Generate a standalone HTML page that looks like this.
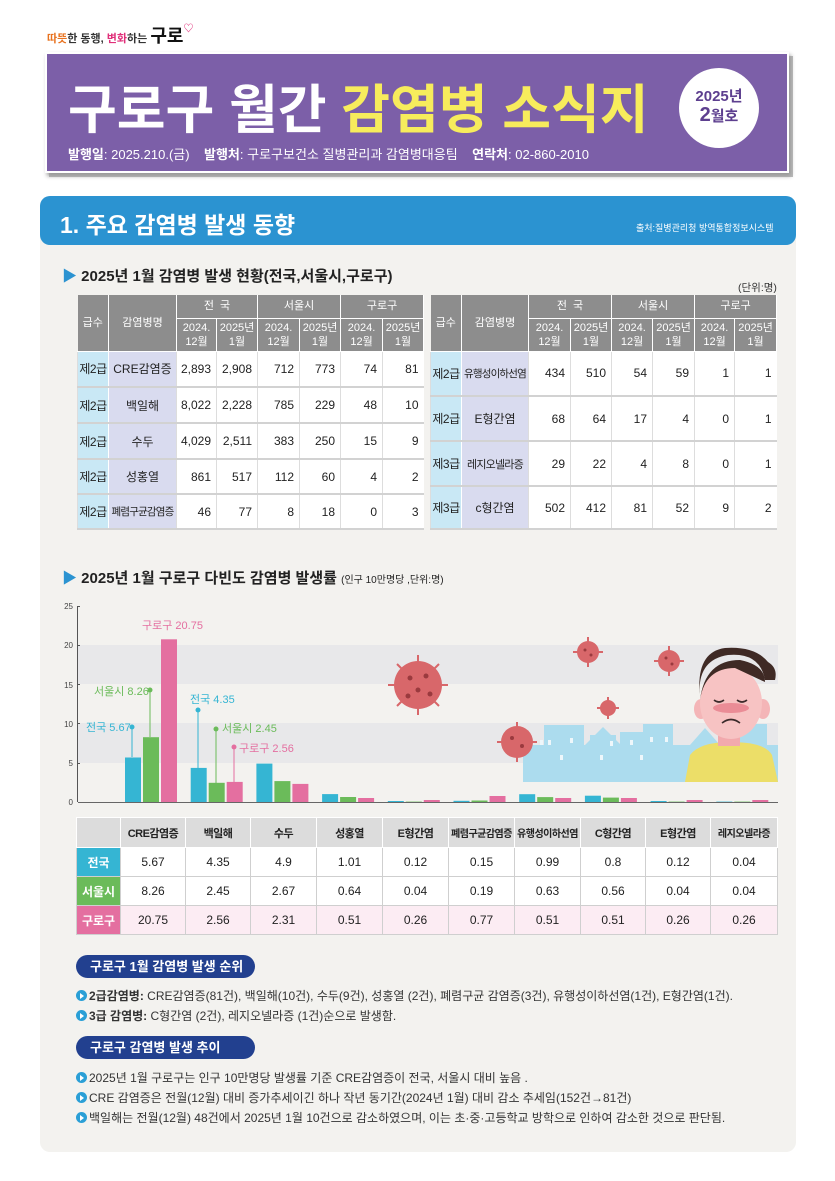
<!DOCTYPE html>
<html><head><meta charset="utf-8">
<style>
*{margin:0;padding:0;box-sizing:border-box}
body{width:835px;height:1181px;background:#fff;position:relative;font-family:"Liberation Sans","Noto Sans CJK KR",sans-serif;overflow:hidden;color:#333}
.a{position:absolute}
table{border-collapse:collapse;table-layout:fixed;position:absolute;font-size:12px}
td{text-align:center;vertical-align:middle;padding:0;white-space:nowrap;overflow:hidden}
.t1 thead td{background:#8d8d8d;color:#fff;border-right:1px solid #fff;border-bottom:1px solid #fff;font-size:11px;line-height:14px}
.t1 tbody td{border-bottom:2px solid #d2d2d2;background:#fff;text-align:right;padding-right:5px;font-size:12px;color:#222}
.t1 tbody td.g{background:#c9e8f5;text-align:center;padding:0;border-right:1px solid #fff;letter-spacing:-0.5px}
.t1 tbody td.n{background:#d9dbef;text-align:center;padding:0}
.t1 tbody td{border-left:1px solid #ddd}
.sm{font-size:10.5px!important;letter-spacing:-0.8px}
.t2 td{border:1px solid #cfcfcf;height:29px;font-size:12px;color:#222}
.t2 tr.h td{background:#dcdcdc;font-weight:bold;font-size:11px;border-color:#fff;letter-spacing:-0.5px}
.pill{background:#22408f;color:#fff;font-weight:bold;font-size:13px;border-radius:12px;padding-left:14px;line-height:23px;height:23px;width:179px}
.ln{font-size:12px;color:#333;left:76px;letter-spacing:0px;white-space:nowrap}
.ar{display:inline-block;width:11px;height:11px;border-radius:50%;background:#2a9fd6;position:relative;top:1px;margin-right:2px}
.ar:after{content:"";position:absolute;left:4px;top:2.5px;border-left:4px solid #fff;border-top:3px solid transparent;border-bottom:3px solid transparent}
</style></head><body>

<div class="a" style="left:47px;top:22px;font-size:11px;font-weight:bold;color:#333"><span style="color:#e8721f">따뜻</span>한 동행, <span style="color:#e0307a">변화</span>하는 <span style="font-size:18px;color:#111">구로</span><span style="color:#e0307a;font-size:10px;position:relative;top:-10px">♡</span></div>

<div class="a" style="left:49px;top:56px;width:744px;height:121px;background:#bbb;"></div>
<div class="a" style="left:45px;top:52px;width:744px;height:121px;background:#7c5fa8;border:2px solid #fff;box-shadow:2px 3px 4px #999"></div>
<div class="a" style="left:68px;top:68px;font-size:53px;font-weight:bold;color:#fff;white-space:nowrap">구로구 월간 <span style="color:#f7ec5c">감염병 소식지</span></div>
<div class="a" style="left:68px;top:144px;font-size:13px;color:#fff;white-space:nowrap"><b>발행일</b>: 2025.210.(금) &nbsp;&nbsp; <b>발행처</b>: 구로구보건소 질병관리과 감염병대응팀 &nbsp;&nbsp; <b>연락처</b>: 02-860-2010</div>
<div class="a" style="left:679px;top:68px;width:80px;height:80px;border-radius:50%;background:#fff;text-align:center;color:#5d3f8f;font-weight:bold;font-size:15px;line-height:19px;padding-top:19px">2025년<br><span style="font-size:20px">2</span>월호</div>

<div class="a" style="left:40px;top:196px;width:756px;height:956px;background:#f3f2ef;border-radius:10px"></div>
<div class="a" style="left:40px;top:196px;width:756px;height:49px;background:#2b93d1;border-radius:10px"></div>
<div class="a" style="left:60px;top:206px;font-size:23px;font-weight:bold;color:#fff">1. 주요 감염병 발생 동향</div>
<div class="a" style="left:636px;top:221px;font-size:9px;color:#fff">출처:질병관리청 방역통합정보시스템</div>

<div class="a" style="left:62px;top:265px;font-size:15px;font-weight:bold;color:#222"><span style="color:#2b93d1">▶</span> 2025년 1월 감염병 발생 현황(전국,서울시,구로구)</div>
<div class="a" style="left:738px;top:280px;font-size:10.5px;color:#333">(단위:명)</div>

<table class="t1" style="left:77px;top:295px;width:346px">
<colgroup><col style="width:31px"><col style="width:68px"><col style="width:40px"><col style="width:41px"><col style="width:42px"><col style="width:41px"><col style="width:42px"><col style="width:41px"></colgroup>
<thead><tr style="height:23px"><td rowspan="2">급수</td><td rowspan="2">감염병명</td><td colspan="2">전 &nbsp;국</td><td colspan="2">서울시</td><td colspan="2">구로구</td></tr>
<tr style="height:33px"><td>2024.<br>12월</td><td>2025년<br>1월</td><td>2024.<br>12월</td><td>2025년<br>1월</td><td>2024.<br>12월</td><td>2025년<br>1월</td></tr></thead>
<tbody>
<tr style="height:36px"><td class="g">제2급</td><td class="n">CRE감염증</td><td>2,893</td><td>2,908</td><td>712</td><td>773</td><td>74</td><td>81</td></tr>
<tr style="height:36px"><td class="g">제2급</td><td class="n">백일해</td><td>8,022</td><td>2,228</td><td>785</td><td>229</td><td>48</td><td>10</td></tr>
<tr style="height:36px"><td class="g">제2급</td><td class="n">수두</td><td>4,029</td><td>2,511</td><td>383</td><td>250</td><td>15</td><td>9</td></tr>
<tr style="height:35px"><td class="g">제2급</td><td class="n">성홍열</td><td>861</td><td>517</td><td>112</td><td>60</td><td>4</td><td>2</td></tr>
<tr style="height:35px"><td class="g">제2급</td><td class="n sm">폐렴구균감염증</td><td>46</td><td>77</td><td>8</td><td>18</td><td>0</td><td>3</td></tr>
</tbody></table>

<table class="t1" style="left:430px;top:295px;width:346px">
<colgroup><col style="width:31px"><col style="width:67px"><col style="width:42px"><col style="width:41px"><col style="width:41px"><col style="width:42px"><col style="width:40px"><col style="width:42px"></colgroup>
<thead><tr style="height:23px"><td rowspan="2">급수</td><td rowspan="2">감염병명</td><td colspan="2">전 &nbsp;국</td><td colspan="2">서울시</td><td colspan="2">구로구</td></tr>
<tr style="height:33px"><td>2024.<br>12월</td><td>2025년<br>1월</td><td>2024.<br>12월</td><td>2025년<br>1월</td><td>2024.<br>12월</td><td>2025년<br>1월</td></tr></thead>
<tbody>
<tr style="height:45px"><td class="g">제2급</td><td class="n sm">유행성이하선염</td><td>434</td><td>510</td><td>54</td><td>59</td><td>1</td><td>1</td></tr>
<tr style="height:45px"><td class="g">제2급</td><td class="n">E형간염</td><td>68</td><td>64</td><td>17</td><td>4</td><td>0</td><td>1</td></tr>
<tr style="height:45px"><td class="g">제3급</td><td class="n sm" style="font-size:11px!important">레지오넬라증</td><td>29</td><td>22</td><td>4</td><td>8</td><td>0</td><td>1</td></tr>
<tr style="height:43px"><td class="g">제3급</td><td class="n">c형간염</td><td>502</td><td>412</td><td>81</td><td>52</td><td>9</td><td>2</td></tr>
</tbody></table>

<div class="a" style="left:62px;top:567px;font-size:15px;font-weight:bold;color:#222"><span style="color:#2b93d1">▶</span> 2025년 1월 구로구 다빈도 감염병 발생률 <span style="font-size:10px;font-weight:normal">(인구 10만명당 ,단위:명)</span></div>

<svg class="a" style="left:0;top:0" width="835" height="1181" font-family="Liberation Sans, Noto Sans CJK KR, sans-serif">
<rect x="78" y="645" width="700" height="39" fill="#e8e8ea"/>
<rect x="78" y="723" width="700" height="40" fill="#e8e8ea"/>
<g font-size="8" fill="#444" text-anchor="end">
<text x="73" y="609">25</text><text x="73" y="648">20</text><text x="73" y="688">15</text><text x="73" y="727">10</text><text x="73" y="766">5</text><text x="73" y="805">0</text></g>
<line x1="77.5" y1="606" x2="77.5" y2="802" stroke="#555"/>
<g stroke="#555"><line x1="77" y1="606.5" x2="80" y2="606.5"/><line x1="77" y1="645.5" x2="80" y2="645.5"/><line x1="77" y1="684.5" x2="80" y2="684.5"/><line x1="77" y1="723.5" x2="80" y2="723.5"/><line x1="77" y1="763.5" x2="80" y2="763.5"/></g>
<g fill="#acdcee">
<rect x="523" y="745" width="255" height="37"/>
<rect x="544" y="725" width="40" height="22"/><polygon points="585,745 603,727 621,745"/><rect x="590" y="735" width="26" height="12"/>
<rect x="620" y="732" width="35" height="15"/><rect x="643" y="724" width="30" height="22"/>
<polygon points="690,745 705,728 720,745"/><rect x="737" y="724" width="30" height="25"/>
</g>
<g fill="#eef7fb"><rect x="540" y="740" width="3" height="5"/><rect x="548" y="740" width="3" height="5"/><rect x="570" y="738" width="3" height="5"/><rect x="610" y="741" width="3" height="5"/><rect x="630" y="740" width="3" height="5"/><rect x="650" y="737" width="3" height="5"/><rect x="665" y="737" width="3" height="5"/><rect x="560" y="755" width="3" height="5"/><rect x="600" y="755" width="3" height="5"/><rect x="640" y="755" width="3" height="5"/></g>
<g fill="#d8676a">
<circle cx="418" cy="685" r="24"/><circle cx="517" cy="742" r="16"/><circle cx="588" cy="652" r="11"/><circle cx="669" cy="661" r="11"/><circle cx="608" cy="708" r="8"/>
</g>
<g stroke="#d8676a" stroke-width="2"><line x1="418" y1="655" x2="418" y2="715"/><line x1="388" y1="685" x2="448" y2="685"/><line x1="397" y1="664" x2="439" y2="706"/><line x1="439" y1="664" x2="397" y2="706"/><line x1="517" y1="722" x2="517" y2="762"/><line x1="497" y1="742" x2="537" y2="742"/><line x1="588" y1="637" x2="588" y2="667"/><line x1="573" y1="652" x2="603" y2="652"/><line x1="669" y1="646" x2="669" y2="676"/><line x1="654" y1="661" x2="684" y2="661"/><line x1="608" y1="697" x2="608" y2="719"/><line x1="597" y1="708" x2="619" y2="708"/></g>
<g fill="#9a3a3e"><circle cx="410" cy="678" r="2.5"/><circle cx="426" cy="676" r="2.5"/><circle cx="418" cy="690" r="2.5"/><circle cx="408" cy="696" r="2.5"/><circle cx="430" cy="694" r="2.5"/><circle cx="512" cy="738" r="2"/><circle cx="522" cy="746" r="2"/><circle cx="585" cy="650" r="1.5"/><circle cx="591" cy="655" r="1.5"/><circle cx="666" cy="658" r="1.5"/><circle cx="672" cy="664" r="1.5"/></g>
<path d="M685 782 L690 755 Q700 742 730 742 Q765 742 772 755 L778 782 Z" fill="#ecde68"/>
<rect x="718" y="726" width="22" height="20" fill="#f2a9ad"/>
<ellipse cx="701" cy="709" rx="7" ry="10" fill="#f4b5b7"/><ellipse cx="763" cy="709" rx="7" ry="10" fill="#f4b5b7"/>
<ellipse cx="731" cy="703" rx="31" ry="36" fill="#f7c3c3"/>
<path d="M700 698 Q696 660 728 655 Q760 652 765 680 L775 680 Q778 668 768 662 Q755 646 725 648 Q695 652 700 698 Z" fill="#3f2a25"/>
<path d="M700 700 Q705 668 735 668 L765 682 Q765 665 740 660 Q705 660 700 700Z" fill="#3f2a25"/>
<ellipse cx="731" cy="708" rx="18" ry="5" fill="#ea8c96"/>
<path d="M714 700 Q719 704 724 700 M737 700 Q742 704 747 700 M722 723 Q731 716 740 723" stroke="#3a2a2a" stroke-width="1.6" fill="none"/>
<g fill="#35b5d3">
<rect x="125" y="757.5" width="16" height="44.5"/><rect x="190.7" y="767.9" width="16" height="34.1"/><rect x="256.4" y="763.6" width="16" height="38.4"/><rect x="322.1" y="794.1" width="16" height="7.9"/><rect x="387.8" y="801" width="16" height="1"/><rect x="453.5" y="800.8" width="16" height="1.2"/><rect x="519.2" y="794.2" width="16" height="7.8"/><rect x="584.9" y="795.7" width="16" height="6.3"/><rect x="650.6" y="801" width="16" height="1"/><rect x="716.3" y="801.6" width="16" height="0.4"/></g>
<g fill="#6bbb5a">
<rect x="143" y="737.2" width="16" height="64.8"/><rect x="208.7" y="782.8" width="16" height="19.2"/><rect x="274.4" y="781.1" width="16" height="20.9"/><rect x="340.1" y="797" width="16" height="5"/><rect x="405.8" y="801.6" width="16" height="0.4"/><rect x="471.5" y="800.5" width="16" height="1.5"/><rect x="537.2" y="797.1" width="16" height="4.9"/><rect x="602.9" y="797.6" width="16" height="4.4"/><rect x="668.6" y="801.6" width="16" height="0.4"/><rect x="734.3" y="801.6" width="16" height="0.4"/></g>
<g fill="#e46fa0">
<rect x="161" y="639.3" width="16" height="162.7"/><rect x="226.7" y="781.9" width="16" height="20.1"/><rect x="292.4" y="783.9" width="16" height="18.1"/><rect x="358.1" y="798" width="16" height="4"/><rect x="423.8" y="800" width="16" height="2"/><rect x="489.5" y="796" width="16" height="6"/><rect x="555.2" y="798" width="16" height="4"/><rect x="620.9" y="798" width="16" height="4"/><rect x="686.6" y="800" width="16" height="2"/><rect x="752.3" y="800" width="16" height="2"/></g>
<line x1="78" y1="802.5" x2="778" y2="802.5" stroke="#666"/>
<g stroke-width="1"><line x1="132" y1="727" x2="132" y2="757" stroke="#35b5d3"/><line x1="150" y1="690" x2="150" y2="737" stroke="#6bbb5a"/><line x1="198" y1="710" x2="198" y2="768" stroke="#35b5d3"/><line x1="216" y1="729" x2="216" y2="783" stroke="#6bbb5a"/><line x1="234" y1="747" x2="234" y2="782" stroke="#e46fa0"/></g>
<circle cx="132" cy="727" r="2.5" fill="#35b5d3"/><circle cx="150" cy="690" r="2.5" fill="#6bbb5a"/><circle cx="198" cy="710" r="2.5" fill="#35b5d3"/><circle cx="216" cy="729" r="2.5" fill="#6bbb5a"/><circle cx="234" cy="747" r="2.5" fill="#e46fa0"/>
<g font-size="11">
<text x="142" y="629" fill="#e46fa0">구로구 20.75</text>
<text x="94" y="695" fill="#6bbb5a">서울시 8.26</text>
<text x="86" y="731" fill="#35b5d3">전국 5.67</text>
<text x="190" y="703" fill="#35b5d3">전국 4.35</text>
<text x="222" y="732" fill="#6bbb5a">서울시 2.45</text>
<text x="239" y="752" fill="#e46fa0">구로구 2.56</text>
</g>
</svg>

<table class="t2" style="left:76px;top:817px;width:701px">
<colgroup><col style="width:44px"><col style="width:65px"><col style="width:65px"><col style="width:66px"><col style="width:66px"><col style="width:66px"><col style="width:66px"><col style="width:66px"><col style="width:65px"><col style="width:65px"><col style="width:67px"></colgroup>
<tr class="h" style="height:30px"><td style="background:#dcdcdc"></td><td>CRE감염증</td><td>백일해</td><td>수두</td><td>성홍열</td><td>E형간염</td><td style="font-size:10px">폐렴구균감염증</td><td style="font-size:10px">유행성이하선염</td><td>C형간염</td><td>E형간염</td><td style="font-size:10px">레지오넬라증</td></tr>
<tr style="background:#fff"><td style="background:#35b5d3;color:#fff;font-weight:bold">전국</td><td>5.67</td><td>4.35</td><td>4.9</td><td>1.01</td><td>0.12</td><td>0.15</td><td>0.99</td><td>0.8</td><td>0.12</td><td>0.04</td></tr>
<tr style="background:#fff"><td style="background:#6bbb5a;color:#fff;font-weight:bold">서울시</td><td>8.26</td><td>2.45</td><td>2.67</td><td>0.64</td><td>0.04</td><td>0.19</td><td>0.63</td><td>0.56</td><td>0.04</td><td>0.04</td></tr>
<tr style="background:#fcecf3"><td style="background:#e46fa0;color:#fff;font-weight:bold">구로구</td><td>20.75</td><td>2.56</td><td>2.31</td><td>0.51</td><td>0.26</td><td>0.77</td><td>0.51</td><td>0.51</td><td>0.26</td><td>0.26</td></tr>
</table>

<div class="a pill" style="left:76px;top:955px">구로구 1월 감염병 발생 순위</div>
<div class="a ln" style="top:987px"><span class="ar"></span><b>2급감염병:</b> CRE감염증(81건), 백일해(10건), 수두(9건), 성홍열 (2건), 폐렴구균 감염증(3건), 유행성이하선염(1건), E형간염(1건).</div>
<div class="a ln" style="top:1007px"><span class="ar"></span><b>3급 감염병:</b> C형간염 (2건), 레지오넬라증 (1건)순으로 발생함.</div>
<div class="a pill" style="left:76px;top:1036px">구로구 감염병 발생 추이</div>
<div class="a ln" style="top:1069px"><span class="ar"></span>2025년 1월 구로구는 인구 10만명당 발생률 기준 CRE감염증이 전국, 서울시 대비 높음 .</div>
<div class="a ln" style="top:1089px"><span class="ar"></span>CRE 감염증은 전월(12월) 대비 증가추세이긴 하나 작년 동기간(2024년 1월) 대비 감소 추세임(152건→81건)</div>
<div class="a ln" style="top:1109px"><span class="ar"></span>백일해는 전월(12월) 48건에서 2025년 1월 10건으로 감소하였으며, 이는 초·중·고등학교 방학으로 인하여 감소한 것으로 판단됨.</div>
</body></html>
